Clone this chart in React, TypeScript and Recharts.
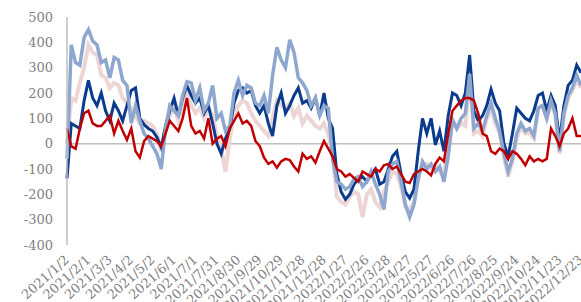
import { LineChart, Line, XAxis, YAxis, ReferenceLine } from 'recharts'

// x axis labels, one every 30 days starting 2021/1/2
const tickLabels = [
  '2021/1/2', '2021/2/1', '2021/3/3', '2021/4/2', '2021/5/2', '2021/6/1',
  '2021/7/1', '2021/7/31', '2021/8/30', '2021/9/29', '2021/10/29', '2021/11/28',
  '2021/12/28', '2022/1/27', '2022/2/26', '2022/3/28', '2022/4/27', '2022/5/27',
  '2022/6/26', '2022/7/26', '2022/8/25', '2022/9/24', '2022/10/24', '2022/11/23',
  '2022/12/23',
]
const yTicks = [-400, -300, -200, -100, 0, 100, 200, 300, 400, 500]

// samples every 6 days
const STEP_DAYS = 6

const pinkSeries = [
  0, 180, 170, 240, 300, 390, 360, 350, 270, 260, 220, 240, 230, 180, 160, 140, 110, 80, 90, 80,
  70, 40, -30, 60, 110, 150, 90, 150, 200, 150, 120, 140, 100, 140, 110, 30, -20, -110, 20, 120,
  150, 170, 160, 120, 90, 70, 50, 30, 100, 170, 150, 140, 160, 110, 140, 80, 110, 90, 70, 60,
  80, 40, -40, -210, -230, -240, -210, -190, -200, -290, -200, -180, -230, -250, -190, -150, -110, -120, -170, -250,
  -260, -230, -120, -90, -80, -100, -90, -110, -110, -20, 90, 60, 80, 70, 260, 40, 50, 30, 100, 130,
  80, 40, -50, -130, -70, 20, 70, 40, 40, 20, 140, 150, 100, 160, 110, -40, 110, 180, 210, 250,
  220,
]

const navySeries = [
  -137, 80, 70, 60, 170, 250, 180, 150, 200, 130, 90, 160, 130, 90, 150, 210, 220, 100, 75, 60,
  50, 25, -15, 70, 130, 180, 110, 180, 230, 190, 160, 180, 120, 150, 80, 0, -40, 20, 60, 160,
  210, 220, 200, 210, 150, 120, 150, 80, 30, 150, 200, 120, 150, 190, 220, 160, 170, 140, 180, 110,
  200, 100, 60, -120, -190, -220, -200, -160, -140, -130, -150, -120, -100, -160, -150, -100, -50, -30, -120, -190,
  -215, -180, -30, 100, 40, 100, -5, 50, -30, 110, 200, 190, 150, 200, 350, 130, 90, 110, 150, 215,
  160, 130, 0, -50, 40, 140, 120, 100, 90, 130, 190, 200, 130, 190, 150, 10, 150, 230, 250, 310,
  280,
]

const lightBlueSeries = [
  -60, 390, 320, 310, 420, 450, 405, 390, 320, 330, 260, 340, 330, 250, 230, 80, 150, 90, 40, 20,
  -10, -40, -100, 60, 150, 130, 110, 190, 245, 240, 170, 220, 130, 160, 230, 100, 120, 50, 70, 200,
  250, 190, 230, 220, 160, 150, 190, 120, 270, 380, 330, 300, 410, 360, 260, 240, 210, 150, 180, 110,
  150, 140, -60, -150, -160, -180, -170, -140, -130, -170, -150, -110, -160, -200, -260, -110, -80, -70, -150, -240,
  -290, -240, -140, -70, -100, -80, -110, -90, -150, -50, 95, 60, 100, 120, 275, 60, 80, 50, 110, 160,
  100, 50, -40, -110, -60, 40, 80, 50, 60, 30, 140, 150, 100, 170, 120, -30, 120, 190, 220, 270,
  230,
]

const redSeries = [
  60, -10, -20, 60, 120, 130, 80, 70, 70, 90, 110, 40, 90, 50, 15, 60, -30, -55, 10, 30,
  20, 10, -10, 40, 90, 70, 50, 100, 180, 70, 40, 50, 20, 100, 0, 20, 30, -10, 60, 90,
  120, 80, 90, 70, 10, -10, -55, -80, -70, -95, -70, -60, -65, -90, -110, -40, -60, -50, -75, -30,
  10, -20, -50, -100, -110, -130, -120, -135, -150, -110, -120, -130, -100, -110, -85, -80, -100, -90, -120, -150,
  -155, -120, -110, -100, -110, -125, -80, -55, -70, 40, 130, 150, 170, 180, 180, 170, 120, 40, 30, -30,
  -40, -20, -30, -60, -30, -40, -60, -85, -50, -70, -60, -70, -60, 60, 30, -10, 40, 60, 100, 30,
  30,
]

const chartData = navySeries.map((_, i) => ({
  day: i * STEP_DAYS,
  pink: pinkSeries[i],
  navy: navySeries[i],
  lightBlue: lightBlueSeries[i],
  red: redSeries[i],
}))

const xTicks = tickLabels.map((_, i) => i * 30)

const labelFont = 'DejaVu Serif'
const labelColor = '#7f7f7f'

function DateTick(props: any) {
  const { x, y, payload } = props
  const label = tickLabels[Math.round(payload.value / 30)]
  return (
    <g transform={`translate(${x + 3},${y + 8}) rotate(-42)`}>
      <text x={0} y={0} textAnchor='end' fill={labelColor} fontSize={13} fontFamily={labelFont}>
        {label}
      </text>
    </g>
  )
}

export default function App() {
  return (
    <div style={{ position: 'absolute', left: 0, top: 0 }}>
      <LineChart
        width={581}
        height={302}
        data={chartData}
        margin={{ top: 17, right: 0, bottom: 0, left: 0 }}
      >
        <XAxis
          dataKey='day'
          type='number'
          domain={[0, 720]}
          ticks={xTicks}
          interval={0}
          height={57}
          axisLine={false}
          tickLine={false}
          tick={<DateTick />}
        />
        <YAxis
          domain={[-400, 500]}
          ticks={yTicks}
          width={67}
          interval={0}
          tickLine={false}
          tickMargin={8}
          axisLine={{ stroke: '#bfbfbf', strokeWidth: 1.5 }}
          tick={{ fill: labelColor, fontSize: 13, fontFamily: labelFont }}
        />
        <ReferenceLine y={0} stroke='#bfbfbf' strokeWidth={1.5} />
        <Line dataKey='pink' stroke='#eed5d5' strokeWidth={4} dot={false} isAnimationActive={false} />
        <Line dataKey='navy' stroke='#0b3b8c' strokeWidth={3} dot={false} isAnimationActive={false} />
        <Line dataKey='lightBlue' stroke='#8ea7cf' strokeWidth={3.5} dot={false} isAnimationActive={false} />
        <Line dataKey='red' stroke='#c00000' strokeWidth={2.5} dot={false} isAnimationActive={false} />
      </LineChart>
    </div>
  )
}
